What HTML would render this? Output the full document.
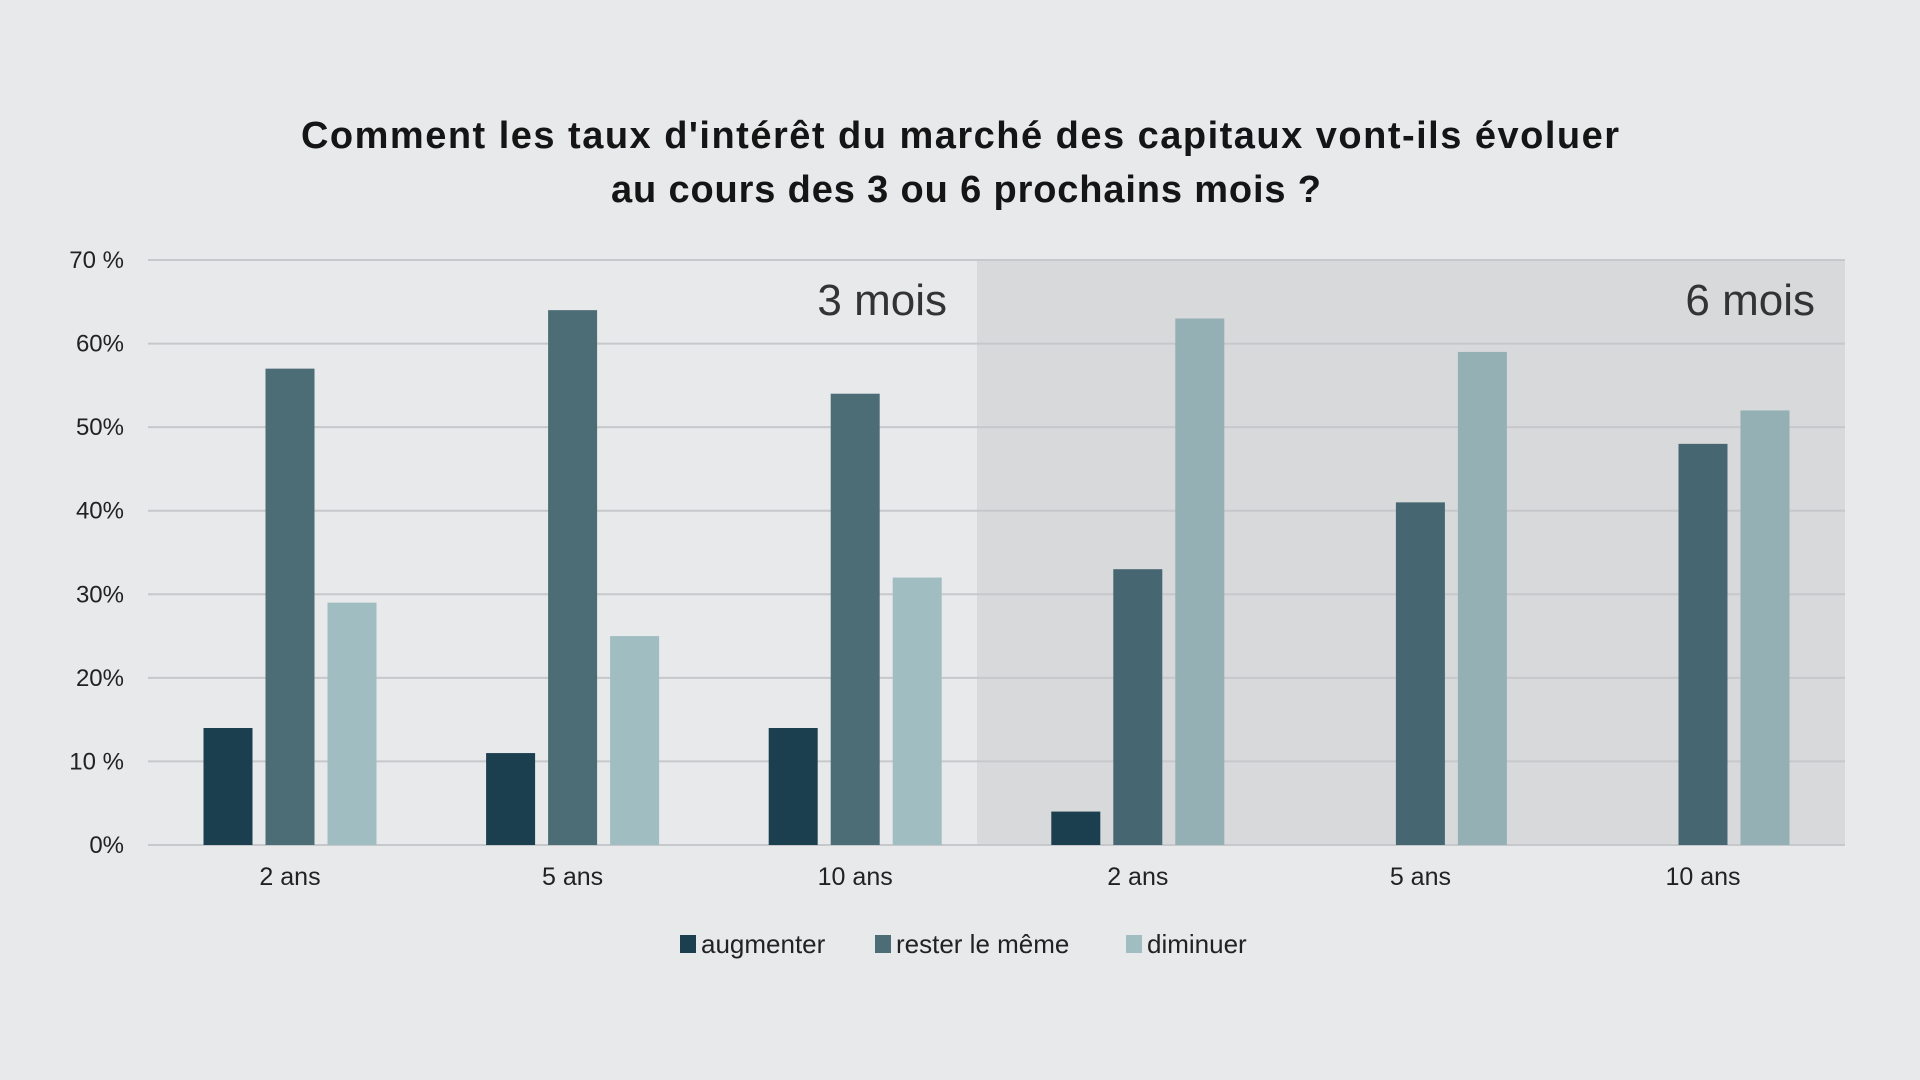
<!DOCTYPE html>
<html><head><meta charset="utf-8"><style>
html,body{margin:0;padding:0;background:#e8e9eb;}
svg{display:block;font-family:"Liberation Sans",sans-serif;}
</style></head><body>
<svg id="chart" width="1920" height="1080">
<rect width="1920" height="1080" fill="#e8e9eb"/>
<text x="960" y="148" text-anchor="middle" font-size="38" font-weight="bold" fill="#151515" textLength="1318">Comment les taux d'intérêt du marché des capitaux vont-ils évoluer</text>
<text x="966" y="202" text-anchor="middle" font-size="38" font-weight="bold" fill="#151515" textLength="710">au cours des 3 ou 6 prochains mois ?</text>
<g id="plot"></g>
</svg>
<script>
const categories = ["2 ans","5 ans","10 ans","2 ans","5 ans","10 ans"];
const augmenter = [14,11,14,4,0,0];
const resterLeMeme = [57,64,54,33,41,48];
const diminuer = [29,25,32,63,59,52];
const yTicks = [0,10,20,30,40,50,60,70];
const yTickLabels = ["0%","10 %","20%","30%","40%","50%","60%","70 %"];
const panels = ["3 mois","6 mois"];

const NS = "http://www.w3.org/2000/svg";
const g = document.getElementById("plot");
const L = 148, R = 1845, Y0 = 845, Y70 = 260, SPLIT = 977;
const y = v => Y0 - (v / 70) * (Y0 - Y70);
const xc = i => 290 + i * 282.6;
function mk(tag, attrs, text) {
  const e = document.createElementNS(NS, tag);
  for (const k in attrs) e.setAttribute(k, attrs[k]);
  if (text !== undefined) e.textContent = text;
  g.appendChild(e);
  return e;
}
let e = mk("rect", {x: SPLIT, y: Y70, width: R - SPLIT, height: Y0 - Y70, fill: "#d8d9db"});


yTicks.forEach((t, i) => {
  const l = mk("line", {x1: L, x2: R, y1: y(t), y2: y(t), stroke: "#c6c8cb", "stroke-width": 2});
  
  
  const tx = mk("text", {x: 124, y: y(t) + 8, "text-anchor": "end", "font-size": 24, fill: "#222"}, yTickLabels[i]);
  
  
});
const series = [
  {vals: augmenter, c: ["#1b3f4f", "#1b3f4f"], off: -62, name: "augmenter"},
  {vals: resterLeMeme, c: ["#4d6d76", "#466671"], off: 0, name: "rester-le-meme"},
  {vals: diminuer, c: ["#a0bec2", "#94b0b4"], off: 62, name: "diminuer"}
];
const BW = 49;
categories.forEach((cat, i) => {
  series.forEach(s => {
    const v = s.vals[i];
    if (v > 0) {
      const b = mk("rect", {x: xc(i) + s.off - BW / 2, y: y(v), width: BW, height: Y0 - y(v), fill: s.c[i < 3 ? 0 : 1]});
      
      
    }
  });
  const t = mk("text", {x: xc(i), y: 885, "text-anchor": "middle", "font-size": 25, fill: "#222"}, cat);
  
  
});
let p1 = mk("text", {x: 947, y: 315, "text-anchor": "end", "font-size": 44, fill: "#333"}, panels[0]);


let p2 = mk("text", {x: 1815, y: 315, "text-anchor": "end", "font-size": 44, fill: "#333"}, panels[1]);


const legend = [["augmenter", "#1b3f4f", 680], ["rester le même", "#4d6d76", 875], ["diminuer", "#a0bec2", 1126]];
legend.forEach(([lab, c, lx]) => {
  const r = mk("rect", {x: lx, y: 935, width: 16, height: 18, fill: c});
  
  
  const t = mk("text", {x: lx + 21, y: 953, "font-size": 26, fill: "#222"}, lab);
  
  
});
</script>
</body></html>
